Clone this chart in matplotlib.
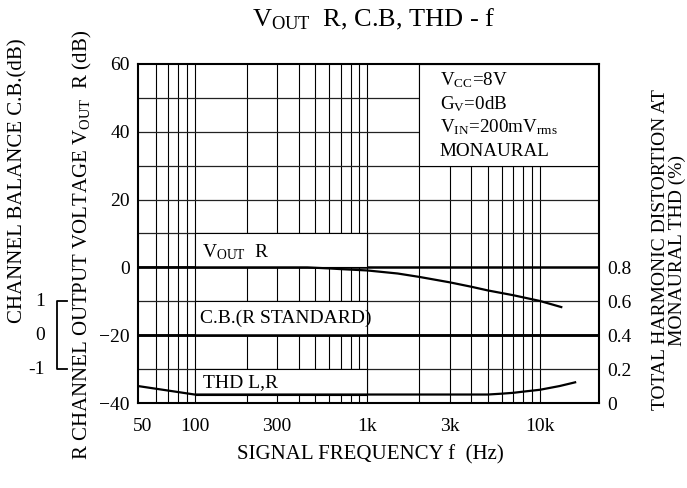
import matplotlib
matplotlib.use("Agg")
import matplotlib.pyplot as plt
import matplotlib.transforms as mtransforms
from matplotlib.patches import Rectangle

plt.rcParams['font.family'] = ['Liberation Serif', 'DejaVu Serif']
plt.rcParams['mathtext.fontset'] = 'custom'
plt.rcParams['mathtext.rm'] = 'Liberation Serif'
plt.rcParams['mathtext.it'] = 'Liberation Serif:italic'
plt.rcParams['font.size'] = 14

# values
vout_freq = [47, 100, 200, 300, 450, 600, 700, 1000, 1500, 2000, 3000, 4000,
             5000, 7000, 10000, 13300]
vout_db = [0, 0, 0, 0, 0, -0.3, -0.5, -0.9, -1.8, -2.8, -4.4, -5.7,
           -6.8, -8.2, -9.9, -11.7]

thd_freq = [47, 100, 200, 500, 1000, 3000, 5000, 6000, 7000, 8000, 10000,
            13000, 16000]
thd_pct = [0.10, 0.05, 0.05, 0.05, 0.05, 0.05, 0.05, 0.055, 0.06, 0.067,
           0.078, 0.1, 0.122]

cb_freq = [47, 22000]
cb_db = [0, 0]

x_ticks = [50, 100, 300, 1000, 3000, 10000]
x_labels = ['50', '100', '300', '1k', '3k', '10k']
y_ticks = [60, 40, 20, 0, -20, -40]
thd_ticks = [0, 0.2, 0.4, 0.6, 0.8]
thd_labels = ['0', '0.2', '0.4', '0.6', '0.8']
cb_ticks = [1, 0, -1]

grid_freq = [m * 10 ** e for e in (1, 2, 3, 4) for m in range(1, 10)
             if 60 <= m * 10 ** e <= 10000]
grid_db = [-30, -10, 10, 20, 30, 40, 50]
major_db = [0, -20]

fig = plt.figure(figsize=(6.87, 4.88), dpi=100)
ax = fig.add_axes([138 / 687, 1 - 403 / 488, 461 / 687, 339 / 488])
ax.set_xscale('log')
ax.set_xlim(47, 22000)
ax.set_ylim(-40, 60)

# grid lines
ax.vlines(grid_freq, -40, 60, colors='black', linewidth=0.8, zorder=1)
ax.hlines(grid_db, 47, 22000, colors='#222222', linewidth=0.9, zorder=1)
ax.hlines(major_db, 47, 22000, colors='black', linewidth=1.8, zorder=1)

# white boxes behind the labels
for (x0, x1, y0, y1) in [(100, 1000, 0, 10), (100, 1000, -20, -10),
                         (100, 1000, -37.5, -30), (2000, 22000, 30, 60)]:
    ax.add_patch(Rectangle((x0, y0), x1 - x0, y1 - y0, facecolor='white',
                           edgecolor='black', linewidth=0.8, zorder=2))

ax.plot(vout_freq, vout_db, color='black', linewidth=1.6, zorder=3)

ax.set_xticks(x_ticks)
ax.set_xticklabels(x_labels)
ax.xaxis.set_minor_locator(matplotlib.ticker.NullLocator())
ax.set_yticks(y_ticks)
ax.tick_params(axis='x', length=0, pad=11)
ax.tick_params(axis='y', length=0, pad=6)
for s in ax.spines.values():
    s.set_linewidth(1.5)
    s.set_zorder(5)

# THD on right axis
ax2 = ax.twinx()
ax2.set_ylim(0, 2.0)
ax2.plot(thd_freq, thd_pct, color='black', linewidth=1.6)
ax2.set_yticks(thd_ticks)
ax2.set_yticklabels(thd_labels)
ax2.tick_params(axis='y', length=0, pad=6)
for s in ax2.spines.values():
    s.set_visible(False)

# channel balance scale (0 at -20 dB, 1 step = 10 dB)
ax3 = ax.twinx()
ax3.set_ylim(-2, 8)
ax3.plot(cb_freq, cb_db, color='black', linewidth=1.8)
ax3.axis('off')
tr = mtransforms.blended_transform_factory(ax3.transAxes, ax3.transData)
ax3.plot([-0.154, -0.176, -0.176, -0.154], [1, 1, -1, -1], color='black',
         linewidth=1.3, transform=tr, clip_on=False)
for v in cb_ticks:
    ax3.text(-0.202, v, str(v), transform=tr, ha='right', va='center')

# in-plot labels
ax.text(110, 4.4, r'V$_{\mathrm{OUT}}$  R', ha='left', va='center', zorder=4)
ax.text(108, -15, 'C.B.(R STANDARD)', ha='left', va='center', zorder=4)
ax.text(112, -34, 'THD L,R', ha='left', va='center', zorder=4)

cond = [r'V$_{\mathrm{CC}}$=8V', r'G$_{\mathrm{V}}$=0dB',
        r'V$_{\mathrm{IN}}$=200mV$_{\mathrm{rms}}$', 'MONAURAL']
for i, t in enumerate(cond):
    ax.text(0.655, 0.953 - i * 0.07, t, transform=ax.transAxes, ha='left',
            va='center', fontsize=13.7, zorder=4)

fig.text(374 / 687, 1 - 19 / 488, r'V$_{\mathrm{OUT}}$  R, C.B, THD - f',
         ha='center', va='center', fontsize=19)
fig.text(370 / 687, 1 - 455 / 488, 'SIGNAL FREQUENCY f  (Hz)',
         ha='center', va='center', fontsize=15)
fig.text(18 / 687, 1 - 38 / 488, 'CHANNEL BALANCE C.B.(dB)', rotation=90,
         ha='center', va='top', fontsize=15)
fig.text(82 / 687, 1 - 245 / 488,
         r'R CHANNEL OUTPUT VOLTAGE V$_{\mathrm{OUT}}$  R (dB)', rotation=90,
         ha='center', va='center', fontsize=15)
fig.text(669 / 687, 1 - 250 / 488,
         'TOTAL HARMONIC DISTORTION AT\nMONAURAL THD (%)', rotation=90,
         ha='center', va='center', linespacing=0.95)

fig.savefig('out.png', dpi=100)
